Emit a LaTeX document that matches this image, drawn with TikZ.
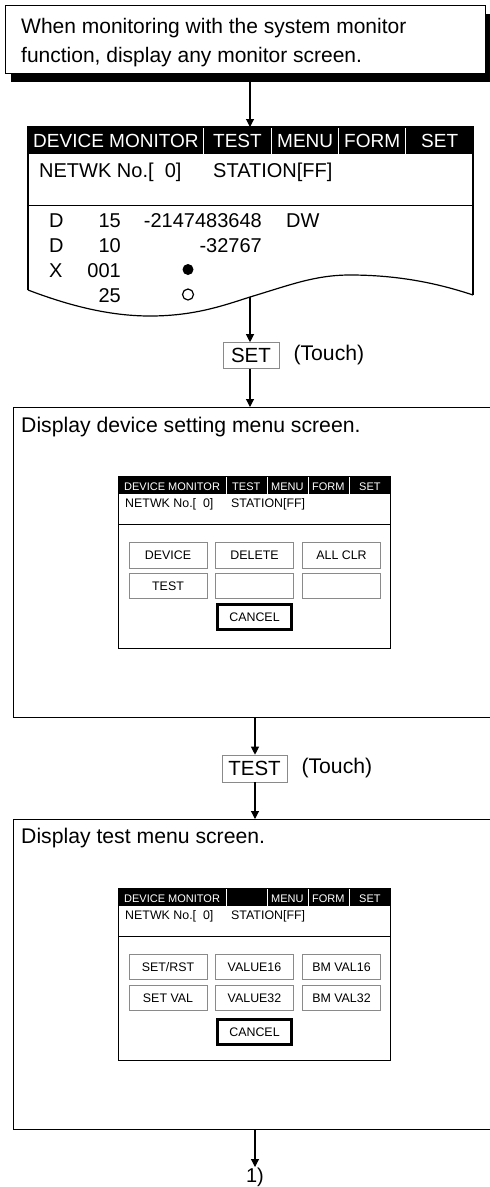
\documentclass[tikz,border=0pt]{standalone}
\usepackage{fontspec}
\setmainfont{Liberation Sans}
\usepackage{xcolor}
\usetikzlibrary{arrows.meta, positioning, calc, shadows}
\definecolor{btngray}{HTML}{8A8A8A}

\tikzset{
  flow/.style={-{Triangle[length=8pt,width=8pt]}, line width=1.1pt},
  lbl/.style={inner sep=0pt, anchor=base west, font=\fontsize{20}{24}\selectfont},
  biglbl/.style={inner sep=0pt, anchor=base west, font=\fontsize{21.2}{25}\selectfont},
  barlbl/.style={inner sep=0pt, anchor=base west, text=white},
  touchbtn/.style={rectangle, draw=btngray, line width=0.6pt, inner sep=0pt,
                   font=\fontsize{20.5}{24}\selectfont},
  minibtn/.style={rectangle, draw=btngray, line width=0.6pt, inner sep=0pt,
                  minimum width=78, minimum height=25.5, font=\fontsize{12.4}{14}\selectfont},
  stepframe/.style={rectangle, draw, line width=1pt, anchor=north west, inner sep=0pt}
}

\begin{document}
\begin{tikzpicture}[x=1pt, y=-1pt]
  \clip (0,0) rectangle (490,1187);

  % first step
  \node[rectangle, draw, line width=1pt, fill=white, minimum width=480, minimum height=68,
        inner sep=0pt, drop shadow={shadow xshift=6pt, shadow yshift=-8pt, fill=black, opacity=1}]
        (intro) at (245,39.5) {};
  \node[inner sep=0pt, anchor=north west, align=left, font=\fontsize{21}{29}\selectfont]
        (introtxt) at (21,17.7) {When monitoring with the system monitor\\function, display any monitor screen.};

  % monitor screen
  \fill (28,127) rectangle (473,154);
  \draw[line width=1.2pt] (28,290) -- (28,127) -- (473,127) -- (473,295);
  \draw[line width=1.2pt] (28,290) .. controls (70,306) and (110,316) .. (150,316)
        .. controls (195,316) and (225,305) .. (250,297)
        .. controls (290,285) and (315,275) .. (350,275)
        .. controls (400,275) and (440,284) .. (473,295);
  \foreach \sx in {203,271,338,405}
    \draw[white, line width=0.8pt] (\sx,128) -- (\sx,154);
  \draw[line width=1pt] (28,205) -- (473,205);
  \begin{scope}[font=\fontsize{19}{22}\selectfont]
    \node[barlbl] (mt1) at (33,147) {DEVICE MONITOR};
    \node[barlbl] (mt2) at (213,147) {TEST};
    \node[barlbl] (mt3) at (277,147) {MENU};
    \node[barlbl] (mt4) at (344,147) {FORM};
    \node[barlbl] (mt5) at (421,147) {SET};
  \end{scope}
  \node[lbl] (mnet) at (39,177) {NETWK No.[\hphantom{0}0]};
  \node[lbl] (mst) at (213,177) {STATION[FF]};
  \foreach \dev/\num/\val/\y [count=\i] in {D/15/-2147483648/227, D/10/-32767/252, X/001//277, /25//302} {
    \node[lbl] (dv\i) at (49,\y) {\dev};
    \node[lbl, anchor=base east] (dn\i) at (121,\y) {\num};
    \node[lbl, anchor=base east] (dx\i) at (262,\y) {\val};
  }
  \node[lbl] (dw) at (286,227) {DW};
  \fill (188,269.5) circle (5.5);
  \draw[line width=1.2pt] (188,294.5) circle (5.5);
  \coordinate (montop) at (250,127);
  \coordinate (monwave) at (250,297);

  % SET touch
  \node[touchbtn, minimum width=56, minimum height=26] (setbtn) at (251,355.5) {SET};
  \node[biglbl, anchor=west, right=14pt of setbtn] (settouch) {(Touch)};

  % device setting menu
  \node[stepframe, minimum width=482, minimum height=310] (devmenu) at (13,407) {};
  \node[biglbl] (devtxt) at (21,432) {Display device setting menu screen.};
  \node[stepframe, line width=1.4pt, minimum width=272, minimum height=172] (devscr) at (118,476) {};
  \begin{scope}[shift={(118,476)}]
    \fill (0,0) rectangle (272,18);
    \foreach \sx in {108,149,190,231}
      \draw[white, line width=0.6pt] (\sx,1) -- (\sx,18);
    \draw[line width=1pt] (0,48) -- (272,48);
    \begin{scope}[font=\fontsize{11}{13}\selectfont]
      \node[barlbl] (dt1) at (6,14) {DEVICE MONITOR};
      \node[barlbl] (dt2) at (114,14) {TEST};
      \node[barlbl] (dt3) at (153,14) {MENU};
      \node[barlbl] (dt4) at (194,14) {FORM};
      \node[barlbl] (dt5) at (241,14) {SET};
    \end{scope}
    \node[lbl, font=\fontsize{12.4}{14}\selectfont] (dnet) at (7,31) {NETWK No.[\hphantom{0}0]};
    \node[lbl, font=\fontsize{12.4}{14}\selectfont] (dst) at (113,31) {STATION[FF]};
    \node[minibtn] (db1) at (50,79.5) {DEVICE};
    \node[minibtn] (db2) at (136.5,79.5) {DELETE};
    \node[minibtn] (db3) at (223.5,79.5) {ALL CLR};
    \node[minibtn] (db4) at (50,110) {TEST};
    \node[minibtn] (db5) at (136.5,110) {};
    \node[minibtn] (db6) at (223.5,110) {};
    \node[minibtn, draw=black, line width=2.6pt, minimum width=74] (dcan) at (136.5,141) {CANCEL};
  \end{scope}

  % TEST touch
  \node[touchbtn, minimum width=65, minimum height=27] (testbtn) at (254.5,768.5) {TEST};
  \node[biglbl, anchor=west, right=14pt of testbtn] (testtouch) {(Touch)};

  % test menu
  \node[stepframe, minimum width=482, minimum height=310] (testmenu) at (13,819) {};
  \node[biglbl] (testtxt) at (21,843) {Display test menu screen.};
  \node[stepframe, line width=1.4pt, minimum width=272, minimum height=172] (testscr) at (118,888) {};
  \begin{scope}[shift={(118,888)}]
    \fill (0,0) rectangle (272,18);
    \foreach \sx in {108,149,190,231}
      \draw[white, line width=0.6pt] (\sx,1) -- (\sx,18);
    \draw[line width=1pt] (0,48) -- (272,48);
    \begin{scope}[font=\fontsize{11}{13}\selectfont]
      \node[barlbl] (tt1) at (6,14) {DEVICE MONITOR};
      \node[barlbl] (tt3) at (153,14) {MENU};
      \node[barlbl] (tt4) at (194,14) {FORM};
      \node[barlbl] (tt5) at (241,14) {SET};
    \end{scope}
    \node[lbl, font=\fontsize{12.4}{14}\selectfont] (tnet) at (7,31) {NETWK No.[\hphantom{0}0]};
    \node[lbl, font=\fontsize{12.4}{14}\selectfont] (tst) at (113,31) {STATION[FF]};
    \node[minibtn] (tb1) at (50,79) {SET/RST};
    \node[minibtn] (tb2) at (136.5,79) {VALUE16};
    \node[minibtn] (tb3) at (223.5,79) {BM VAL16};
    \node[minibtn] (tb4) at (50,110) {SET VAL};
    \node[minibtn] (tb5) at (136.5,110) {VALUE32};
    \node[minibtn] (tb6) at (223.5,110) {BM VAL32};
    \node[minibtn, draw=black, line width=2.6pt, minimum width=74] (tcan) at (136.5,144) {CANCEL};
  \end{scope}

  \coordinate (next) at (255,1167);
  \node[lbl, anchor=base] (nextlbl) at (255,1182.5) {1)};

  % connectors
  \draw[flow] (intro.south -| montop) ++(0,8) -- (montop);
  \draw[flow] (monwave) -- (monwave |- setbtn.north);
  \draw[flow] (setbtn.south -| monwave) -- (monwave |- devmenu.north);
  \draw[flow] (devmenu.south -| next) -- (next |- testbtn.north);
  \draw[flow] (testbtn.south -| next) -- (next |- testmenu.north);
  \draw[flow] (testmenu.south -| next) -- (next);
\end{tikzpicture}
\end{document}
